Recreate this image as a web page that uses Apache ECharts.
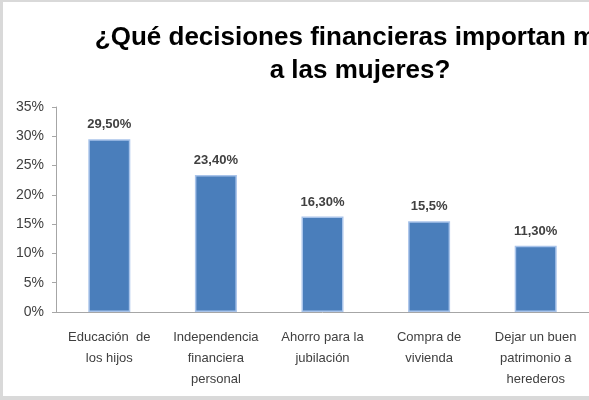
<!DOCTYPE html>
<html>
<head>
<meta charset="utf-8">
<script src="https://cdn.jsdelivr.net/npm/echarts@6/dist/echarts.min.js"></script>
<style>
  html, body { margin: 0; padding: 0; background: #fff; }
  #chart {
    width: 586px; height: 394px;
    border-left: 3px solid #d9d9d9;
    border-top: 2px solid #d9d9d9;
    border-bottom: 4px solid #d9d9d9;
  }
</style>
</head>
<body>
<div id="chart"></div>
<script>
// datos del gráfico
var categorias = [
  'Educación  de\nlos hijos',
  'Independencia\nfinanciera\npersonal',
  'Ahorro para la\njubilación',
  'Compra de\nvivienda',
  'Dejar un buen\npatrimonio a\nherederos'
];
var valores = [29.5, 23.4, 16.3, 15.5, 11.3];
var etiquetas = ['29,50%', '23,40%', '16,30%', '15,5%', '11,30%'];
var ticksY = [0, 5, 10, 15, 20, 25, 30, 35];

var fuente = 'Liberation Sans';

var chart = echarts.init(document.getElementById('chart'));
chart.setOption({
  animation: false,
  title: {
    text: '¿Qué decisiones financieras importan más\na las mujeres?',
    left: 352,
    top: 14,
    textAlign: 'center',
    textStyle: {
      fontFamily: fuente,
      fontSize: 26,
      fontWeight: 'bold',
      color: '#000',
      lineHeight: 33
    }
  },
  grid: { left: 53, right: 0, top: 105, bottom: 84 },
  xAxis: {
    type: 'category',
    data: categorias,
    axisLine: { lineStyle: { color: '#a6a6a6', width: 1 } },
    axisTick: { show: false },
    axisLabel: {
      interval: 0,
      margin: 15,
      fontFamily: fuente,
      fontSize: 13,
      color: '#404040',
      lineHeight: 21
    }
  },
  yAxis: {
    type: 'value',
    min: ticksY[0],
    max: ticksY[ticksY.length - 1],
    interval: 5,
    splitLine: { show: false },
    axisLine: { show: true, lineStyle: { color: '#a6a6a6', width: 1 } },
    axisTick: { show: true, length: 4, lineStyle: { color: '#a6a6a6' } },
    axisLabel: {
      margin: 12,
      fontFamily: fuente,
      fontSize: 14,
      color: '#404040',
      formatter: function (v) { return v + '%'; }
    }
  },
  series: [{
    type: 'bar',
    data: valores,
    barWidth: 42,
    itemStyle: {
      color: '#4a7ebb',
      borderColor: '#a9c4ea',
      borderWidth: 1.5
    },
    label: {
      show: true,
      position: 'top',
      distance: 8,
      fontFamily: fuente,
      fontSize: 13,
      fontWeight: 'bold',
      color: '#404040',
      formatter: function (p) { return etiquetas[p.dataIndex]; }
    }
  }]
});
</script>
</body>
</html>
